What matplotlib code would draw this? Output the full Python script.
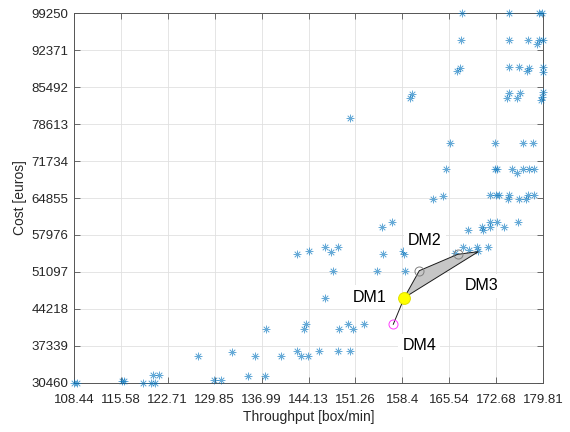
import matplotlib
matplotlib.use("Agg")
import matplotlib.pyplot as plt

plt.rcParams['font.family'] = ['Liberation Sans', 'DejaVu Sans']

throughput = [108.44, 108.94, 115.79, 116.05, 118.89, 120.16, 120.81, 120.51, 121.42, 127.36,
              129.79, 130.76, 132.53, 134.96, 136.06, 137.48, 137.73, 139.97, 142.45, 142.42,
              142.98, 143.47, 143.82, 144.00, 144.13, 145.80, 146.68, 147.60, 148.69, 147.90,
              146.67, 148.81, 148.66, 150.17, 150.44, 150.87, 152.60, 154.50, 155.27, 155.42,
              156.83, 158.51, 158.73, 158.81, 150.44, 159.57, 159.95, 163.12, 164.52, 165.10,
              165.70, 166.42, 167.68, 168.60, 169.84, 169.87, 171.49, 168.47, 170.48, 170.63,
              171.75, 171.79, 172.86, 173.92, 176.05, 171.75, 172.66, 173.16, 174.53, 174.68,
              176.16, 177.23, 177.48, 178.49, 172.51, 172.76, 175.14, 175.86, 176.81, 177.65,
              178.47, 172.51, 176.81, 178.34, 166.77, 167.18, 174.68, 176.11, 177.42, 177.68,
              179.77, 179.77, 167.38, 174.68, 177.57, 178.94, 179.25, 179.77, 167.53, 174.68,
              179.25, 179.61, 174.38, 174.68, 175.81, 176.31, 179.46, 179.61, 179.77]
cost = [30460, 30460, 30780, 30780, 30460, 30460, 30460, 31840, 31840, 35490,
        30960, 30960, 36270, 31760, 35490, 31760, 40460, 35490, 54430, 36360,
        35490, 40460, 41300, 35490, 54990, 36360, 55790, 54890, 55790, 51220,
        46270, 40500, 36360, 41300, 36360, 40550, 41300, 51220, 59510, 54430,
        60330, 54990, 54370, 51260, 79810, 83530, 84220, 64630, 65320, 70260,
        75190, 54560, 55750, 55170, 55750, 54990, 55750, 58930, 59460, 58930,
        60330, 59460, 60330, 59460, 60330, 65360, 65360, 65360, 64760, 65360,
        64670, 64670, 65360, 65360, 70260, 70260, 70260, 69600, 70260, 70260,
        70260, 75190, 75190, 75190, 88510, 89120, 89310, 89310, 88510, 89120,
        89310, 88230, 94280, 94280, 94280, 93590, 94280, 94280, 99250, 99250,
        99250, 99250, 83530, 84350, 83530, 84350, 83100, 83720, 84590]

dm_names = ['DM1', 'DM2', 'DM3', 'DM4']
dm_x = [158.70, 160.99, 166.83, 157.03]
dm_y = [46290, 51320, 54370, 41340]
hull_x = [158.70, 160.99, 166.83, 169.97]
hull_y = [46290, 51320, 54370, 54860]
label_x = [153.48, 161.86, 170.48, 160.99]
label_y = [46420, 56900, 48470, 37350]

xticks = [108.44, 115.58, 122.71, 129.85, 136.99, 144.13, 151.26, 158.4, 165.54, 172.68, 179.81]
yticks = [30460, 37339, 44218, 51097, 57976, 64855, 71734, 78613, 85492, 92371, 99250]

fig = plt.figure(figsize=(5.7, 4.32), dpi=100)
ax = fig.add_axes([0.1298, 0.1141, 0.8228, 0.8551])

ax.plot(throughput, cost, linestyle='none', marker=(8, 2, 0), markersize=5.5,
        markeredgewidth=0.5, color='#0072BD', alpha=0.6, clip_on=False, zorder=3)

ax.fill(hull_x, hull_y, facecolor='#c6c6c6', edgecolor='#1a1a1a', linewidth=0.7, zorder=4)
ax.plot([dm_x[0], dm_x[3]], [dm_y[0], dm_y[3]], color='#1a1a1a', linewidth=0.7, zorder=4)
ax.plot(dm_x[1:3], dm_y[1:3], linestyle='none', marker='o', markersize=6.5, markerfacecolor='none',
        markeredgecolor='#808080', markeredgewidth=0.7, zorder=5)
ax.plot([dm_x[3]], [dm_y[3]], linestyle='none', marker='o', markersize=6.5, markerfacecolor='none',
        markeredgecolor='#ff40ff', markeredgewidth=0.7, zorder=5)
ax.plot([dm_x[0]], [dm_y[0]], linestyle='none', marker='o', markersize=8.5, markerfacecolor='#ffff00',
        markeredgecolor='#e0e000', markeredgewidth=0.7, zorder=6)

for name, lx, ly in zip(dm_names, label_x, label_y):
    ax.text(lx, ly, name, fontsize=11.5, ha='center', va='center', color='black', zorder=7,
            bbox=dict(facecolor='white', edgecolor='none', pad=3))

ax.set_xlim(xticks[0], xticks[-1])
ax.set_ylim(yticks[0], yticks[-1])
ax.set_xticks(xticks)
ax.set_xticklabels([f'{v:g}' for v in xticks])
ax.set_yticks(yticks)
ax.set_yticklabels([str(v) for v in yticks])
ax.tick_params(direction='in', top=True, right=True, length=4, width=0.6,
               labelcolor='#262626', labelsize=9.5, color='#555555')
ax.tick_params(axis='x', pad=8)
ax.tick_params(axis='y', pad=4)
for s in ax.spines.values():
    s.set_color('#555555')
    s.set_linewidth(0.7)
ax.grid(True, color='#e0e0e0', linewidth=0.6)
ax.set_axisbelow(True)

ax.set_xlabel('Throughput [box/min]', fontsize=10, color='#262626', labelpad=3)
ax.set_ylabel('Cost [euros]', fontsize=10, color='#262626', labelpad=3)

fig.savefig('out.png', dpi=100)
